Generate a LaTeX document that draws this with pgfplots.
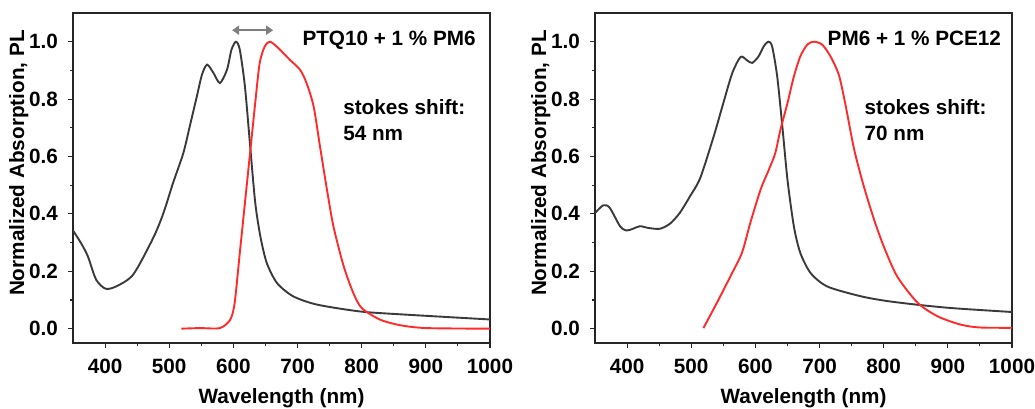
\documentclass[border=0pt]{standalone}
\usepackage{fontspec}
\setmainfont{Liberation Sans}
\usepackage{pgfplots}
\pgfplotsset{compat=1.18}
\usetikzlibrary{arrows.meta}
\definecolor{absc}{HTML}{3A3A3A}
\definecolor{plc}{HTML}{FF2A2A}
\definecolor{arrc}{HTML}{7F7F7F}
\newcommand{\bigf}{\fontsize{20.7bp}{24bp}\selectfont\bfseries}
\pgfplotsset{
  myax/.style={
    width=417bp, height=330bp, scale only axis,
    xmin=350, xmax=1000, ymin=-0.05, ymax=1.1,
    xtick={400,500,...,1000}, ytick={0,0.2,...,1.0},
    minor x tick num=1, minor y tick num=1,
    tick align=outside, tick pos=left,
    major tick length=5bp, minor tick length=3bp,
    axis line style={line width=1.2bp, draw=black!85},
    every tick/.style={line width=1.1bp, black!85},
    /pgf/number format/assume math mode=true,
    /pgf/number format/set thousands separator={},
    yticklabel style={/pgf/number format/fixed, /pgf/number format/fixed zerofill, /pgf/number format/precision=1},
    ticklabel style={font=\bigf},
    xticklabel style={inner sep=0pt, yshift=-11bp, anchor=north},
    yticklabel style={inner sep=0pt, xshift=-10bp, anchor=east},
    label style={font=\bigf},
    xlabel={Wavelength (nm)},
    ylabel={Normalized Absorption, PL},
    xlabel style={at={(axis description cs:0.5,-0.167)}, anchor=center},
    ylabel style={at={(axis description cs:-0.13,0.545)}, anchor=center},
    every axis plot/.append style={line width=1.9bp, smooth, tension=0.45, no marks},
  }
}
\begin{document}
\begin{tikzpicture}[x=1bp,y=1bp]
\path[use as bounding box] (0,0) rectangle (1035,408);
\begin{axis}[myax, at={(73bp,65bp)}, anchor=south west]
\addplot[absc] coordinates {
(350,0.342)(362,0.300)(373,0.253)(386,0.171)(401,0.139)(418,0.148)(444,0.189)(475,0.316)(491,0.403)(506,0.508)(522,0.612)(532,0.705)(543,0.809)(551,0.885)(559,0.920)(569,0.891)(579,0.856)(590,0.902)(597,0.972)(604,1.0)(610,0.972)(618,0.844)(626,0.640)(634,0.440)(642,0.322)(652,0.229)(668,0.159)(693,0.113)(730,0.084)(797,0.060)(860,0.050)(1000,0.032)};
\addplot[plc] coordinates {
(519,0.0)(548,0.002)(579,0.002)(595,0.031)(602,0.090)(610,0.264)(618,0.438)(626,0.612)(634,0.786)(641,0.926)(649,0.984)(657,1.0)(670,0.978)(688,0.937)(704,0.902)(714,0.856)(725,0.775)(735,0.635)(745,0.496)(756,0.356)(772,0.217)(787,0.124)(800,0.072)(828,0.032)(860,0.012)(901,0.002)(1000,0.0)};
\draw[arrc, line width=2.2bp, {Triangle[length=7bp,width=9bp]}-{Triangle[length=7bp,width=9bp]}] (axis cs:598,1.04) -- (axis cs:662,1.04);
\node[anchor=base east, inner sep=0pt, font=\bigf] at (axis cs:978,0.986) {PTQ10 + 1 \% PM6};
\node[anchor=base west, inner sep=0pt, font=\bigf] at (axis cs:771,0.746) {stokes shift:};
\node[anchor=base west, inner sep=0pt, font=\bigf] at (axis cs:771,0.655) {54 nm};
\end{axis}
\begin{axis}[myax, at={(595bp,65bp)}, anchor=south west]
\addplot[absc] coordinates {
(350,0.403)(363,0.430)(373,0.421)(389,0.357)(399,0.342)(409,0.348)(420,0.357)(433,0.351)(451,0.348)(467,0.366)(482,0.403)(498,0.461)(514,0.525)(535,0.670)(550,0.786)(564,0.891)(577,0.947)(587,0.935)(595,0.926)(605,0.949)(613,0.984)(620,1.0)(626,0.984)(634,0.879)(642,0.705)(650,0.519)(660,0.356)(670,0.264)(686,0.194)(712,0.147)(764,0.113)(806,0.096)(858,0.082)(910,0.071)(1000,0.058)};
\addplot[plc] coordinates {
(519,0.002)(540,0.090)(561,0.182)(579,0.264)(592,0.368)(608,0.484)(621,0.554)(631,0.612)(639,0.693)(650,0.786)(660,0.879)(670,0.949)(681,0.990)(691,1.0)(704,0.990)(717,0.949)(730,0.885)(740,0.785)(754,0.624)(769,0.496)(785,0.380)(800,0.287)(821,0.182)(853,0.090)(884,0.043)(920,0.014)(950,0.004)(1000,0.003)};
\node[anchor=base east, inner sep=0pt, font=\bigf] at (axis cs:983,0.986) {PM6 + 1 \% PCE12};
\node[anchor=base west, inner sep=0pt, font=\bigf] at (axis cs:770,0.746) {stokes shift:};
\node[anchor=base west, inner sep=0pt, font=\bigf] at (axis cs:770,0.655) {70 nm};
\end{axis}
\end{tikzpicture}
\end{document}
